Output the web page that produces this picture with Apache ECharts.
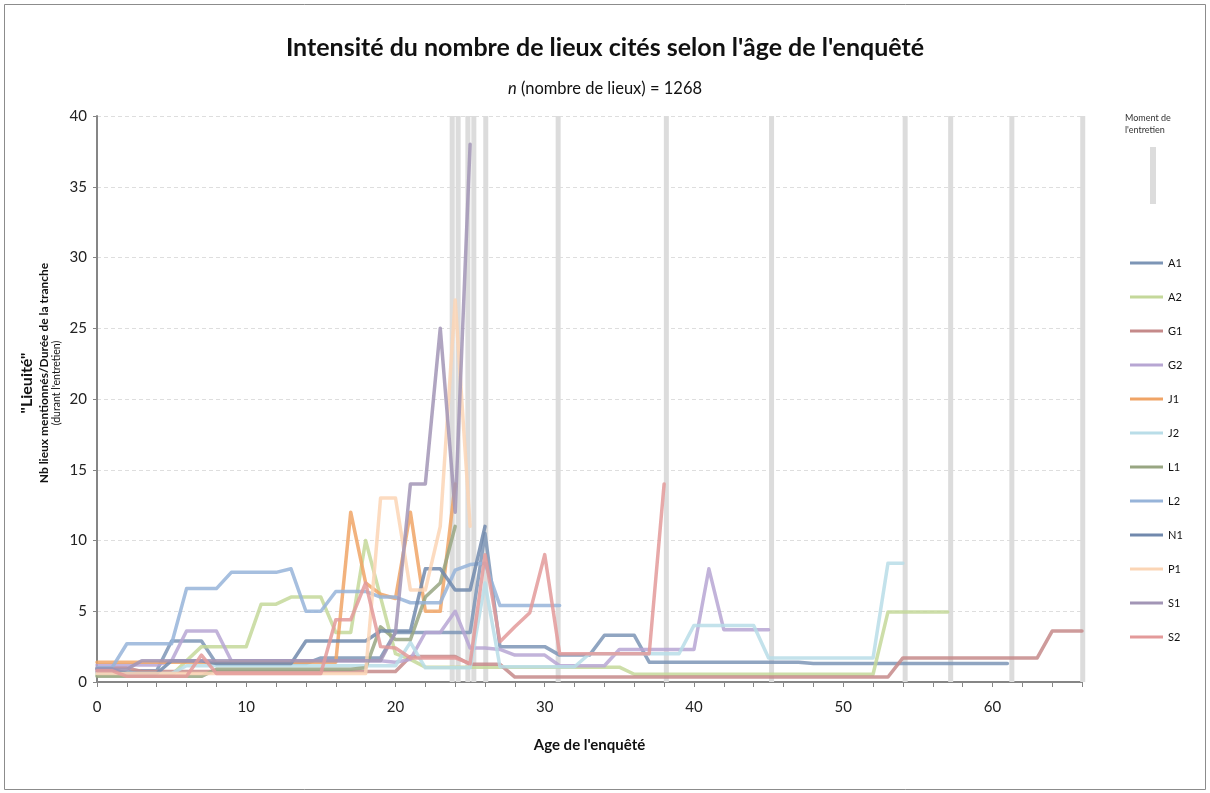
<!DOCTYPE html>
<html>
<head>
<meta charset="utf-8">
<script src="https://cdn.jsdelivr.net/npm/echarts@6/dist/echarts.min.js"></script>
<style>
html, body { margin: 0; padding: 0; background: #fff; }
#chart { width: 1210px; height: 793px; }
</style>
</head>
<body>
<div id="chart"></div>
<script>
// one value per year of age, index 0 = age 0, each list stops at the interview age
var names = ['A1', 'A2', 'G1', 'G2', 'J1', 'J2', 'L1', 'L2', 'N1', 'P1', 'S1', 'S2']
var colors = ['#7d95b6', '#c4d89a', '#c58a8a', '#b7a6d3', '#f0a466', '#b9dde8',
              '#98a682', '#97b4d9', '#7189ad', '#fbd5b5', '#a295b6', '#e39a9a']

var A1 = [0.7, 0.7, 0.7, 0.8, 0.8, 2.9, 2.9, 2.9, 1.3, 1.3,
          1.3, 1.3, 1.3, 1.3, 1.3, 1.7, 1.7, 1.7, 1.7, 1.7,
          3.5, 3.5, 3.5, 3.5, 3.5, 3.5, 10.5, 2.5, 2.5, 2.5,
          2.5, 1.9, 1.9, 1.9, 3.3, 3.3, 3.3, 1.4, 1.4, 1.4,
          1.4, 1.4, 1.4, 1.4, 1.4, 1.4, 1.4, 1.4, 1.3, 1.3,
          1.3, 1.3, 1.3, 1.3, 1.3, 1.3, 1.3, 1.3, 1.3, 1.3,
          1.3, 1.3]
var A2 = [0.5, 0.5, 0.5, 0.5, 0.5, 0.5, 1.5, 2.5, 2.5, 2.5,
          2.5, 5.5, 5.5, 6, 6, 6, 3.5, 3.5, 10, 6,
          2, 1.6, 1.05, 1.05, 1.05, 1.05, 1.05, 1.05, 1.05, 1.05,
          1.05, 1.05, 1.05, 1.05, 1.05, 1.05, 0.55, 0.55, 0.55, 0.55,
          0.55, 0.55, 0.55, 0.55, 0.55, 0.55, 0.55, 0.55, 0.55, 0.55,
          0.55, 0.55, 0.55, 4.95, 4.95, 4.95, 4.95, 4.95]
var G1 = [1, 1, 1, 0.75, 0.75, 0.75, 0.75, 0.75, 0.75, 0.75,
          0.75, 0.75, 0.75, 0.75, 0.75, 0.75, 0.75, 0.75, 0.75, 0.75,
          0.75, 1.8, 1.8, 1.8, 1.8, 1.25, 1.25, 1.25, 0.35, 0.35,
          0.35, 0.35, 0.35, 0.35, 0.35, 0.35, 0.35, 0.35, 0.35, 0.35,
          0.35, 0.35, 0.35, 0.35, 0.35, 0.35, 0.35, 0.35, 0.35, 0.35,
          0.35, 0.35, 0.35, 0.35, 1.7, 1.7, 1.7, 1.7, 1.7, 1.7,
          1.7, 1.7, 1.7, 1.7, 3.6, 3.6, 3.6]
var G2 = [1.2, 1.2, 1.2, 1.2, 1.2, 1.5, 3.6, 3.6, 3.6, 1.5,
          1.5, 1.5, 1.5, 1.5, 1.5, 1.5, 1.5, 1.5, 1.5, 1.5,
          1.4, 1.6, 3.5, 3.5, 5, 2.4, 2.4, 2.3, 1.9, 1.9,
          1.9, 1.15, 1.15, 1.15, 1.15, 2.3, 2.3, 2.3, 2.3, 2.3,
          2.3, 8, 3.7, 3.7, 3.7, 3.7]
var J1 = [1.4, 1.4, 1.4, 1.4, 1.4, 1.4, 1.4, 1.4, 1.4, 1.4,
          1.4, 1.4, 1.4, 1.4, 1.4, 1.4, 1.4, 12, 7, 6.2,
          5.9, 12, 5, 5, 14]
var J2 = [0.6, 0.6, 0.6, 0.6, 0.6, 0.6, 1.15, 1.15, 1.15, 1.15,
          1.15, 1.15, 1.15, 1.15, 1.15, 1.15, 1.15, 1.15, 1.15, 1.15,
          1.15, 2.8, 1, 1, 1, 1, 7, 1.08, 1.08, 1.08,
          1.08, 1.08, 1.08, 2, 2, 2, 2, 2, 2, 2,
          4, 4, 4, 4, 4, 1.7, 1.7, 1.7, 1.7, 1.7,
          1.7, 1.7, 1.7, 8.4, 8.4]
var L1 = [0.4, 0.4, 0.4, 0.4, 0.4, 0.4, 0.4, 0.4, 0.9, 0.9,
          0.9, 0.9, 0.9, 0.9, 0.9, 0.9, 0.9, 0.9, 1, 3.9,
          3, 3, 6, 7, 11]
var L2 = [1, 1, 2.7, 2.7, 2.7, 2.7, 6.6, 6.6, 6.6, 7.75,
          7.75, 7.75, 7.75, 8, 5, 5, 6.4, 6.4, 6.4, 6,
          6, 5.6, 5.6, 5.6, 7.9, 8.3, 8.4, 5.4, 5.4, 5.4,
          5.4, 5.4]
var N1 = [0.9, 0.9, 0.6, 0.6, 0.6, 1.5, 1.5, 1.5, 1.3, 1.3,
          1.3, 1.3, 1.3, 1.3, 2.9, 2.9, 2.9, 2.9, 2.9, 3.6,
          3.6, 3.6, 8, 8, 6.5, 6.5, 11]
var P1 = [0.6, 0.6, 0.6, 0.6, 0.6, 0.6, 0.6, 0.6, 0.6, 0.6,
          0.6, 0.6, 0.6, 0.6, 0.6, 0.6, 0.6, 0.6, 0.6, 13,
          13, 6.5, 6.5, 11, 27, 11]
var S1 = [0.9, 0.9, 0.9, 1.5, 1.5, 1.5, 1.5, 1.5, 1.5, 1.5,
          1.5, 1.5, 1.5, 1.5, 1.5, 1.5, 1.5, 1.5, 1.5, 1.5,
          3.5, 14, 14, 25, 12, 38]
var S2 = [0.8, 0.8, 0.4, 0.4, 0.4, 0.4, 0.4, 1.9, 0.6, 0.6,
          0.6, 0.6, 0.6, 0.6, 0.6, 0.6, 4.4, 4.4, 7, 2.5,
          2.4, 1.7, 1.7, 1.7, 1.7, 1.3, 9, 2.85, 3.9, 4.9,
          9, 2, 2, 2, 2, 2, 2, 2, 14]
var values = [A1, A2, G1, G2, J1, J2, L1, L2, N1, P1, S1, S2]

// age at the interview (grey bars), bar height = top of the axis
var entretien = [23.8, 24.2, 24.85, 25.25, 26.05, 30.9, 38.15, 45.2, 54.15, 57.2, 61.3, 66.05]
var entretienTop = 40

var xTicks = [0, 10, 20, 30, 40, 50, 60]

var font = 'Lato, "Open Sans", sans-serif'
var chart = echarts.init(document.getElementById('chart'))

var series = [{
  name: "Moment de l'entretien",
  type: 'bar',
  barWidth: 5,
  clip: false,
  z: 1,
  silent: true,
  itemStyle: { color: '#dcdcdc' },
  data: entretien.map(function (a) { return [a, entretienTop] })
}]
names.forEach(function (n, i) {
  series.push({
    name: n,
    type: 'line',
    z: 2 + i,
    symbol: 'none',
    color: colors[i],
    lineStyle: { width: 3.5, opacity: 0.85, cap: 'round', join: 'round' },
    data: values[i].map(function (v, age) { return [age, v] })
  })
})

chart.setOption({
  backgroundColor: '#fff',
  animation: false,
  textStyle: { fontFamily: font },
  title: {
    text: "Intensité du nombre de lieux cités selon l'âge de l'enquêté",
    left: 'center',
    top: 30,
    textStyle: { fontSize: 25, fontWeight: 'bold', color: '#111', fontFamily: font },
    subtext: '{i|n} (nombre de lieux) = 1268',
    itemGap: 20,
    subtextStyle: {
      fontSize: 16.5, color: '#111', fontFamily: font,
      rich: { i: { fontStyle: 'italic', fontSize: 16.5, color: '#111', fontFamily: font } }
    }
  },
  legend: {
    data: names,
    orient: 'vertical',
    left: 1125,
    top: 251,
    icon: 'rect',
    itemWidth: 33,
    itemHeight: 3,
    itemGap: 20,
    textStyle: { fontSize: 11, color: '#111', lineHeight: 14, fontFamily: font }
  },
  grid: { left: 97, top: 116, width: 985, height: 566 },
  xAxis: {
    type: 'value',
    min: 0,
    max: 66,
    interval: 2,
    name: "Age de l'enquêté",
    nameLocation: 'middle',
    nameGap: 56,
    nameTextStyle: { fontSize: 15, fontWeight: 'bold', color: '#111' },
    axisLine: { lineStyle: { color: '#868686', width: 2 } },
    axisTick: { length: 5, lineStyle: { color: '#868686' } },
    splitLine: { show: false },
    axisLabel: {
      fontSize: 15, color: '#222', margin: 18,
      formatter: function (v) { return xTicks.indexOf(v) >= 0 ? String(v) : '' }
    }
  },
  yAxis: {
    type: 'value',
    min: 0,
    max: 40,
    interval: 5,
    axisLine: { show: true, lineStyle: { color: '#868686', width: 2 } },
    axisTick: { show: true, length: 4, lineStyle: { color: '#868686' } },
    splitLine: { lineStyle: { color: '#dedede', type: [4, 3] } },
    axisLabel: { fontSize: 15, color: '#222', margin: 10 }
  },
  graphic: [
    { type: 'rect', shape: { x: 4.5, y: 4.5, width: 1201, height: 785 },
      style: { fill: 'none', stroke: '#8c8c8c', lineWidth: 1 }, silent: true },
    { type: 'text', x: 27, y: 383, rotation: Math.PI / 2,
      style: { text: '"Lieuité"', fontSize: 16, fontWeight: 'bold', fill: '#111', fontFamily: font,
               textAlign: 'center', textVerticalAlign: 'middle' } },
    { type: 'text', x: 44, y: 373, rotation: Math.PI / 2,
      style: { text: 'Nb lieux mentionnés/Durée de la tranche', fontSize: 12, fontWeight: 'bold', fill: '#111',
               fontFamily: font, textAlign: 'center', textVerticalAlign: 'middle' } },
    { type: 'text', x: 57, y: 383, rotation: Math.PI / 2,
      style: { text: "(durant l'entretien)", fontSize: 10.5, fill: '#111', fontFamily: font,
               textAlign: 'center', textVerticalAlign: 'middle' } },
    { type: 'text', x: 1125, y: 112,
      style: { text: "Moment de\nl'entretien", fontSize: 9, lineHeight: 12, fill: '#333', fontFamily: font } },
    { type: 'rect', shape: { x: 1150, y: 147, width: 6, height: 57 },
      style: { fill: '#dcdcdc' }, silent: true }
  ],
  series: series
})
</script>
</body>
</html>
